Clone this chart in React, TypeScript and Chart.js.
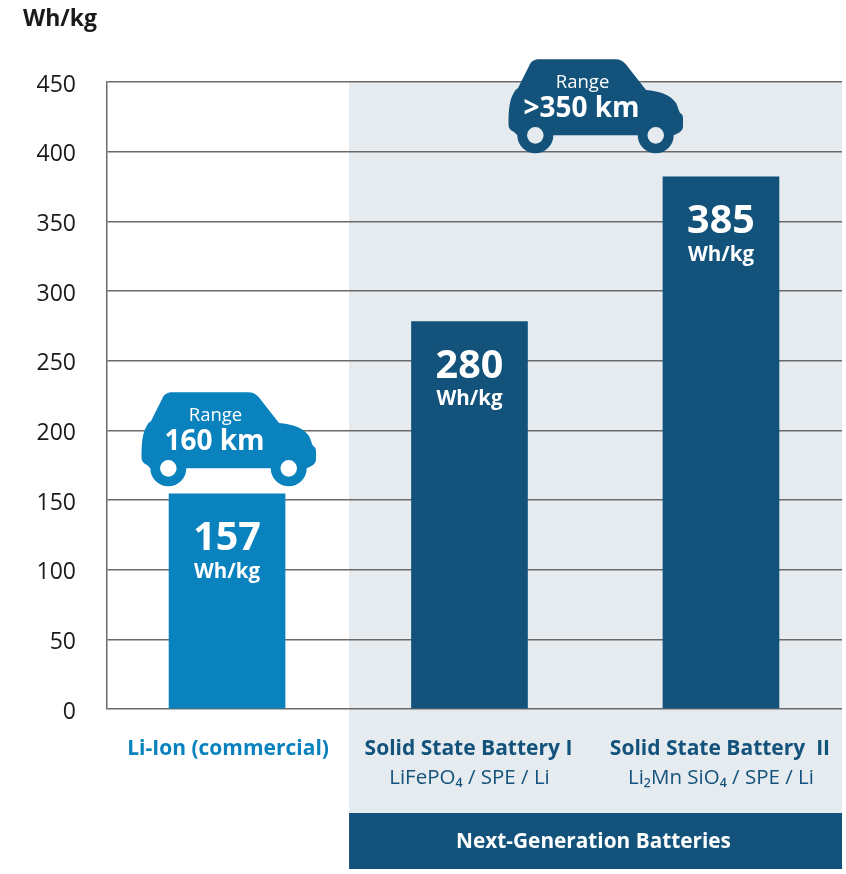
import React, { useEffect, useRef } from "react";
import { Chart, registerables } from "chart.js";

Chart.register(...registerables);

// Data
const unit = "Wh/kg";
const barHeights = [154.5, 278, 382];
const barLabels = ["157", "280", "385"];
const categoryNames = ["Li-Ion (commercial)", "Solid State Battery I", "Solid State Battery  II"];
const categorySubs = ["", "LiFePO₄ / SPE / Li", "Li₂Mn SiO₄ / SPE / Li"];
const rangeTitles = ["Range", "Range"];
const rangeValues = ["160 km", ">350 km"];
const groupName = "Next-Generation Batteries";
const yTicks = [0, 50, 100, 150, 200, 250, 300, 350, 400, 450];

// Layout on the slot axis (0..3 across the plot)
const barSlots = [0.49, 1.4795, 2.506];
const carSlots = [0.496, 1.994];
const carBottoms = [160, 399];
const panelStartSlot = 0.988;

const BLUE = "#0a82bd";
const NAVY = "#12527b";
const PANEL = "#e6ebf0";
const GRID = "#6a6a6a";
const FONT = '"Open Sans", sans-serif';

function drawCar(ctx: CanvasRenderingContext2D, cx: number, bottom: number, color: string) {
  const x0 = cx - 87.5;
  const y0 = bottom - 94;
  const X = (v: number) => x0 + v;
  const Y = (v: number) => y0 + v;
  ctx.save();
  ctx.fillStyle = color;
  ctx.beginPath();
  ctx.moveTo(X(45), Y(76.3));
  ctx.arc(X(27.3), Y(76.3), 18, 0, Math.PI, false);
  ctx.lineTo(X(6), Y(73));
  ctx.bezierCurveTo(X(2), Y(71), X(0.5), Y(69), X(0.5), Y(65));
  ctx.bezierCurveTo(X(0.5), Y(52), X(1), Y(40), X(7.3), Y(31.3));
  ctx.lineTo(X(10), Y(29));
  ctx.lineTo(X(21), Y(7));
  ctx.bezierCurveTo(X(23), Y(2.5), X(26), Y(0.3), X(31), Y(0.3));
  ctx.lineTo(X(107), Y(0.3));
  ctx.bezierCurveTo(X(112), Y(0.3), X(115), Y(2), X(118), Y(5.5));
  ctx.lineTo(X(138), Y(31));
  ctx.bezierCurveTo(X(150), Y(32), X(162), Y(35), X(168), Y(44));
  ctx.bezierCurveTo(X(170), Y(48), X(170.5), Y(51), X(172), Y(54));
  ctx.bezierCurveTo(X(174.5), Y(55), X(175), Y(57), X(175), Y(60));
  ctx.lineTo(X(175), Y(67));
  ctx.bezierCurveTo(X(175), Y(72), X(171), Y(74), X(165.5), Y(76.3));
  ctx.arc(X(147.7), Y(76.3), 18, 0, Math.PI, false);
  ctx.lineTo(X(45), Y(76.3));
  ctx.closePath();
  ctx.moveTo(X(35.6), Y(76.3));
  ctx.arc(X(27.3), Y(76.3), 8.3, 0, Math.PI * 2);
  ctx.closePath();
  ctx.moveTo(X(156), Y(76.3));
  ctx.arc(X(147.7), Y(76.3), 8.3, 0, Math.PI * 2);
  ctx.closePath();
  ctx.fill("evenodd");
  ctx.restore();
}

function text(
  ctx: CanvasRenderingContext2D,
  s: string,
  x: number,
  y: number,
  font: string,
  color: string,
  align: CanvasTextAlign = "center"
) {
  ctx.font = font;
  ctx.fillStyle = color;
  ctx.textAlign = align;
  ctx.textBaseline = "middle";
  ctx.fillText(s, x, y + 2);
}

const backdrop = {
  id: "backdrop",
  beforeDraw(chart: any) {
    const { ctx, scales, chartArea } = chart;
    const left = scales.x.getPixelForValue(panelStartSlot);
    ctx.save();
    ctx.fillStyle = PANEL;
    ctx.fillRect(left, chartArea.top, chartArea.right - left, 813 - chartArea.top);
    ctx.fillStyle = NAVY;
    ctx.fillRect(left, 813, chartArea.right - left, 56);
    ctx.restore();
  },
};

const annotations = {
  id: "annotations",
  afterDraw(chart: any) {
    const { ctx, scales, chartArea } = chart;
    const { x, y } = scales;
    ctx.save();
    text(ctx, unit, 23, 17, `bold 23px ${FONT}`, "#1a1a1a", "left");

    yTicks.forEach((v) => {
      text(ctx, String(v), 76, y.getPixelForValue(v) + 1, `23px ${FONT}`, "#1a1a1a", "right");
    });

    barLabels.forEach((label, i) => {
      const cx = x.getPixelForValue(barSlots[i]);
      const top = y.getPixelForValue(barHeights[i]);
      text(ctx, label, cx, top + 43, `bold 39.5px ${FONT}`, "#ffffff");
      text(ctx, unit, cx, top + 76, `bold 20.5px ${FONT}`, "#ffffff");
    });

    rangeValues.forEach((value, i) => {
      const cx = x.getPixelForValue(carSlots[i]);
      const bottom = y.getPixelForValue(carBottoms[i]);
      drawCar(ctx, cx, bottom, i === 0 ? BLUE : NAVY);
      text(ctx, rangeTitles[i], cx - 13, bottom - 72, `18.5px ${FONT}`, "#ffffff");
      text(ctx, value, cx - 14, bottom - 46, `bold 28px ${FONT}`, "#ffffff");
    });

    categoryNames.forEach((name, i) => {
      const cx = x.getPixelForValue(barSlots[i]);
      text(ctx, name, cx + (i === 0 ? 1 : -1), chartArea.bottom + 38, `bold 21px ${FONT}`, i === 0 ? BLUE : NAVY);
      if (categorySubs[i]) {
        text(ctx, categorySubs[i], cx, chartArea.bottom + 67, `20.5px ${FONT}`, NAVY);
      }
    });

    const left = x.getPixelForValue(panelStartSlot);
    text(ctx, groupName, (left + chartArea.right) / 2 - 2, 840, `bold 20.8px ${FONT}`, "#ffffff");
    ctx.restore();
  },
};

export default function App() {
  const ref = useRef<HTMLCanvasElement>(null);

  useEffect(() => {
    document.body.style.margin = "0";
    const chart = new Chart(ref.current!, {
      type: "bar",
      data: {
        datasets: [
          {
            data: barHeights.map((h, i) => ({ x: barSlots[i], y: h })),
            backgroundColor: [BLUE, NAVY, NAVY],
            barThickness: 116,
          },
        ],
      },
      options: {
        responsive: false,
        animation: false,
        devicePixelRatio: 1,
        layout: { padding: { top: 82, bottom: 165, right: 4, left: 0 } },
        plugins: { legend: { display: false }, tooltip: { enabled: false } },
        scales: {
          x: { type: "linear", min: 0, max: 3, display: false, offset: false },
          y: {
            min: 0,
            max: 450,
            afterFit(scale: any) {
              scale.width = 107;
            },
            afterBuildTicks(scale: any) {
              scale.ticks = yTicks.map((value) => ({ value }));
            },
            border: { color: GRID, width: 1.5 },
            grid: { color: GRID, lineWidth: 1.5, drawTicks: false },
            ticks: { display: false },
          },
        },
      } as any,
      plugins: [backdrop, annotations],
    });
    return () => chart.destroy();
  }, []);

  return <canvas ref={ref} width={846} height={874} style={{ display: "block" }} />;
}
